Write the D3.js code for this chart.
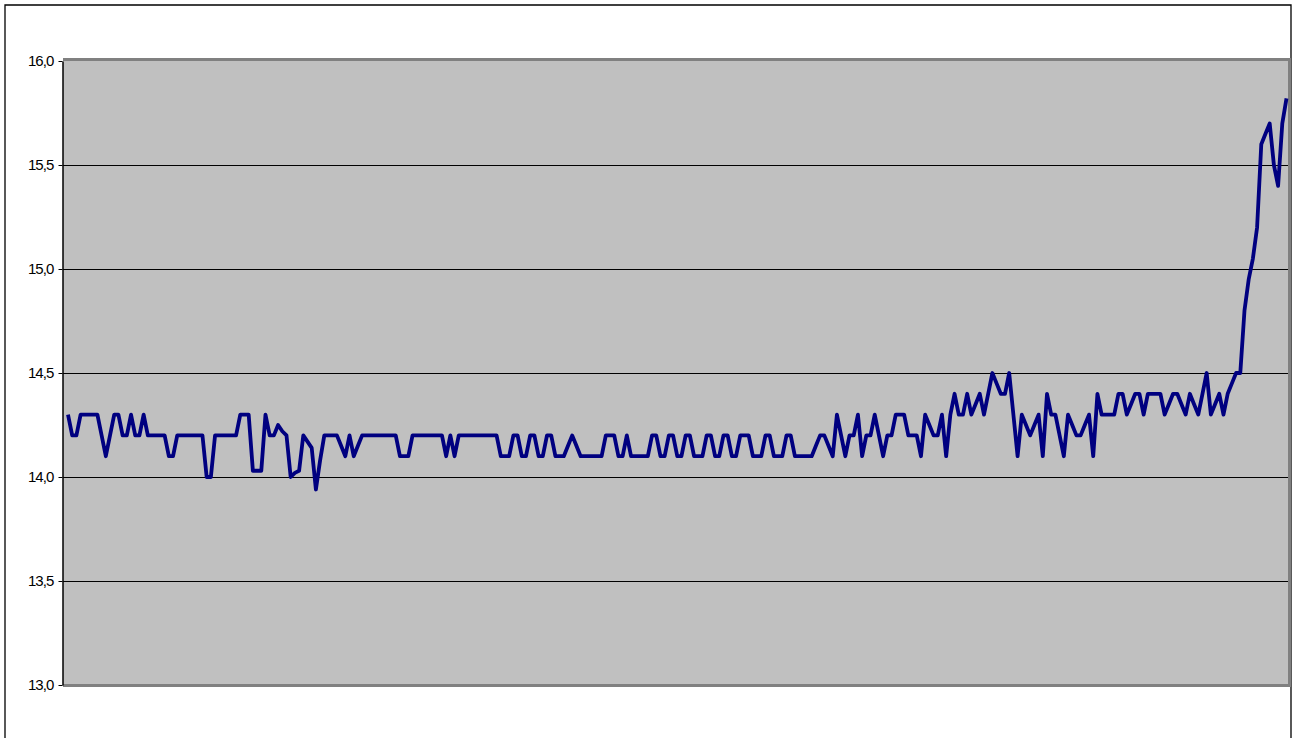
<!DOCTYPE html>
<html><head><meta charset="utf-8">
<script src="https://cdn.jsdelivr.net/npm/d3@7/dist/d3.min.js"></script>
<style>html,body{margin:0;padding:0;background:#fff;}svg{display:block;}</style>
</head><body>
<svg id="chart" width="1292" height="738"></svg>
<script>
const tickValues = [13.0, 13.5, 14.0, 14.5, 15.0, 15.5, 16.0];
const tickLabels = ["13,0", "13,5", "14,0", "14,5", "15,0", "15,5", "16,0"];
const values = [
14.3,14.2,14.2,14.3,14.3,14.3,14.3,14.3,14.2,14.1,
14.2,14.3,14.3,14.2,14.2,14.3,14.2,14.2,14.3,14.2,
14.2,14.2,14.2,14.2,14.1,14.1,14.2,14.2,14.2,14.2,
14.2,14.2,14.2,14.0,14.0,14.2,14.2,14.2,14.2,14.2,
14.2,14.3,14.3,14.3,14.03,14.03,14.03,14.3,14.2,14.2,
14.25,14.22,14.2,14.0,14.02,14.03,14.2,14.17,14.14,13.94,
14.08,14.2,14.2,14.2,14.2,14.15,14.1,14.2,14.1,14.15,
14.2,14.2,14.2,14.2,14.2,14.2,14.2,14.2,14.2,14.1,
14.1,14.1,14.2,14.2,14.2,14.2,14.2,14.2,14.2,14.2,
14.1,14.2,14.1,14.2,14.2,14.2,14.2,14.2,14.2,14.2,
14.2,14.2,14.2,14.1,14.1,14.1,14.2,14.2,14.1,14.1,
14.2,14.2,14.1,14.1,14.2,14.2,14.1,14.1,14.1,14.15,
14.2,14.15,14.1,14.1,14.1,14.1,14.1,14.1,14.2,14.2,
14.2,14.1,14.1,14.2,14.1,14.1,14.1,14.1,14.1,14.2,
14.2,14.1,14.1,14.2,14.2,14.1,14.1,14.2,14.2,14.1,
14.1,14.1,14.2,14.2,14.1,14.1,14.2,14.2,14.1,14.1,
14.2,14.2,14.2,14.1,14.1,14.1,14.2,14.2,14.1,14.1,
14.1,14.2,14.2,14.1,14.1,14.1,14.1,14.1,14.15,14.2,
14.2,14.15,14.1,14.3,14.2,14.1,14.2,14.2,14.3,14.1,
14.2,14.2,14.3,14.2,14.1,14.2,14.2,14.3,14.3,14.3,
14.2,14.2,14.2,14.1,14.3,14.25,14.2,14.2,14.3,14.1,
14.3,14.4,14.3,14.3,14.4,14.3,14.35,14.4,14.3,14.4,
14.5,14.45,14.4,14.4,14.5,14.3,14.1,14.3,14.25,14.2,
14.25,14.3,14.1,14.4,14.3,14.3,14.2,14.1,14.3,14.25,
14.2,14.2,14.25,14.3,14.1,14.4,14.3,14.3,14.3,14.3,
14.4,14.4,14.3,14.35,14.4,14.4,14.3,14.4,14.4,14.4,
14.4,14.3,14.35,14.4,14.4,14.35,14.3,14.4,14.35,14.3,
14.4,14.5,14.3,14.35,14.4,14.3,14.4,14.45,14.5,14.5,
14.8,14.95,15.05,15.2,15.6,15.65,15.7,15.5,15.4,15.7,
15.82
];

const svg = d3.select("#chart");
const plot = {left: 63, top: 61, right: 1288, bottom: 685};

// outer frame
svg.append("path").attr("d", "M5,738 V5 H1291 V738")
  .attr("fill", "none").attr("stroke", "#000").attr("stroke-width", 1.3);

const y = d3.scaleLinear().domain([13, 16]).range([plot.bottom, plot.top]);
const x = d3.scalePoint().domain(d3.range(values.length)).range([68, 1286.5]);

// plot area with grey 3D border
svg.append("rect").attr("x", plot.left).attr("y", plot.top - 3)
  .attr("width", plot.right - plot.left + 3).attr("height", plot.bottom - plot.top + 5)
  .attr("fill", "#808080");
svg.append("rect").attr("x", plot.left).attr("y", plot.top)
  .attr("width", plot.right - plot.left).attr("height", plot.bottom - plot.top - 1)
  .attr("fill", "#C0C0C0");

// gridlines
svg.append("g").selectAll("line").data(tickValues.filter(v => v > 13 && v < 16)).join("line")
  .attr("x1", plot.left).attr("x2", plot.right)
  .attr("y1", d => Math.round(y(d)) + 0.5).attr("y2", d => Math.round(y(d)) + 0.5)
  .attr("stroke", "#000").attr("stroke-width", 1);

// y axis
const axis = d3.axisLeft(y).tickValues(tickValues)
  .tickFormat((d, i) => tickLabels[i]).tickSize(4).tickSizeOuter(0);
const ag = svg.append("g").attr("transform", `translate(${plot.left - 0.5},0)`).call(axis);
ag.select(".domain").attr("stroke", "#000").attr("stroke-width", 1.5);
ag.selectAll(".tick line").attr("stroke", "#000");
ag.selectAll(".tick text").attr("font-family", "'Liberation Sans', Arial, sans-serif")
  .attr("font-size", 15).attr("fill", "#000").attr("letter-spacing", "-0.9")
  .attr("x", -9);

// series line
const line = d3.line().x((d, i) => x(i)).y(d => y(d));
svg.append("path").datum(values).attr("d", line)
  .attr("fill", "none").attr("stroke", "#000080").attr("stroke-width", 3.8)
  .attr("stroke-linejoin", "round");
</script>
</body></html>
